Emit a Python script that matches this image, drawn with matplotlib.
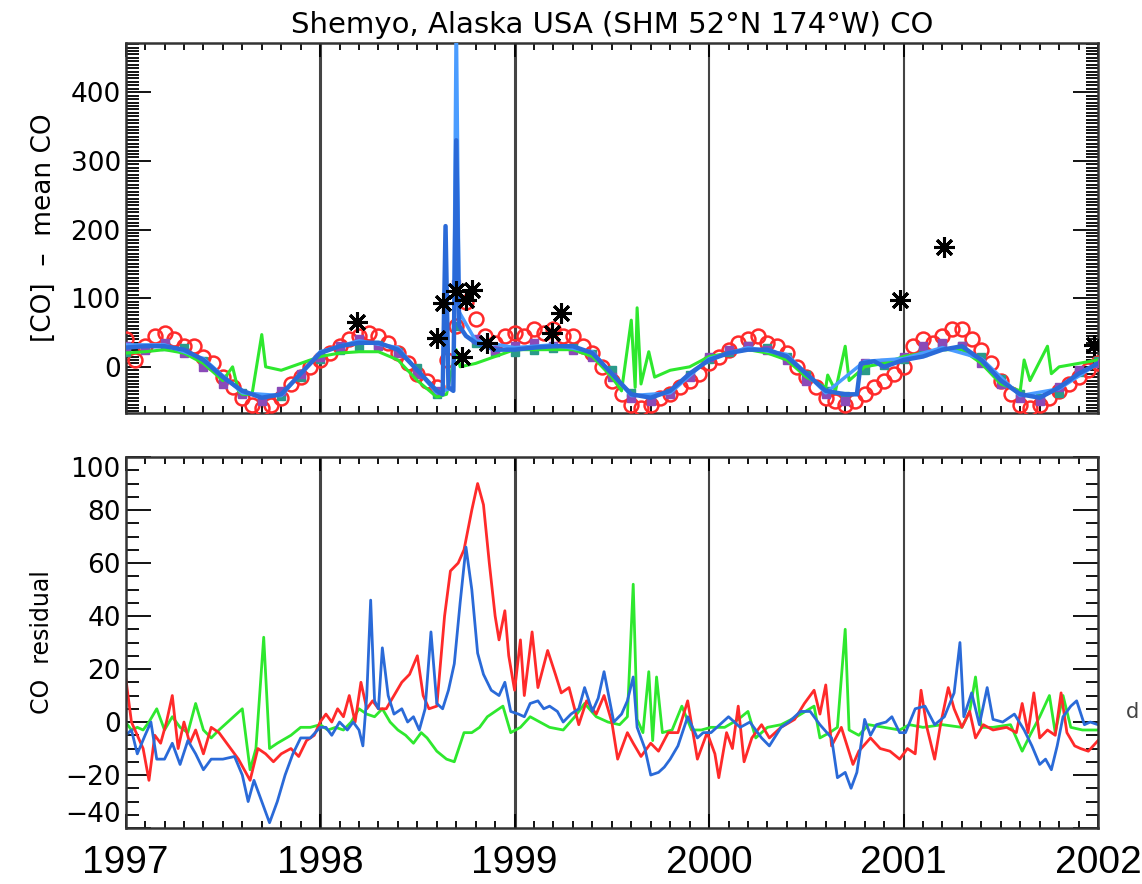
import numpy as np
import matplotlib
matplotlib.use("Agg")
import matplotlib.pyplot as plt
from matplotlib.ticker import MultipleLocator

# ---- dados: painel superior ([CO] - mean CO) ----

# azul (modelo) com os picos de 1998
t_azul = [1997.0, 1997.1, 1997.2, 1997.3, 1997.4, 1997.5, 1997.6, 1997.7, 1997.8, 1997.9,
          1998.0, 1998.1, 1998.2, 1998.3, 1998.4, 1998.5, 1998.6, 1998.63, 1998.645, 1998.66,
          1998.685, 1998.70, 1998.715, 1998.75, 1998.8, 1998.9,
          1999.0, 1999.1, 1999.2, 1999.3, 1999.4, 1999.5, 1999.6, 1999.7, 1999.8, 1999.9,
          2000.0, 2000.1, 2000.2, 2000.3, 2000.4, 2000.5, 2000.6, 2000.7, 2000.76, 2000.78,
          2000.85, 2000.9, 2001.0, 2001.1, 2001.2, 2001.3, 2001.4, 2001.5, 2001.6, 2001.7,
          2001.8, 2001.9, 2002.0]
v_azul = [28, 30, 30, 25, 10, -15, -35, -45, -40, -10,
          20, 30, 35, 35, 25, -5, -35, -40, 205, -30,
          -35, 330, 60, 45, 35, 25,
          25, 28, 30, 30, 20, -10, -40, -45, -35, -10,
          10, 20, 25, 25, 15, -10, -35, -40, -40, 5,
          8, 0, 10, 15, 25, 30, 10, -20, -40, -45,
          -30, -10, 5]

# azul claro: pico que sai do grafico
t_azul_cl = [1997.0, 1997.2, 1997.4, 1997.6, 1997.8, 1998.0, 1998.2, 1998.4, 1998.6,
             1998.685, 1998.70, 1998.715, 1998.8, 1999.0, 1999.2, 1999.4, 1999.6, 1999.8,
             2000.0, 2000.2, 2000.4, 2000.6, 2000.8, 2001.0, 2001.2, 2001.4, 2001.6, 2001.8, 2002.0]
v_azul_cl = [32, 32, 12, -38, -42, 22, 38, 28, -38,
             -30, 520, 80, 38, 28, 32, 22, -42, -38,
             12, 28, 18, -38, 8, 12, 28, 12, -42, -32, 5]

t_verde = [1997.0, 1997.1, 1997.2, 1997.3, 1997.4, 1997.5, 1997.55, 1997.58, 1997.6, 1997.65,
           1997.7, 1997.72, 1997.8, 1997.9,
           1998.0, 1998.1, 1998.2, 1998.3, 1998.4, 1998.5, 1998.6, 1998.65, 1998.7, 1998.72,
           1998.8, 1998.9,
           1999.0, 1999.1, 1999.2, 1999.3, 1999.4, 1999.5, 1999.55, 1999.6, 1999.62, 1999.63,
           1999.65, 1999.69, 1999.72, 1999.8, 1999.9,
           2000.0, 2000.1, 2000.2, 2000.3, 2000.4, 2000.5, 2000.6, 2000.61, 2000.65, 2000.70,
           2000.72, 2000.8, 2000.9,
           2001.0, 2001.1, 2001.2, 2001.3, 2001.4, 2001.5, 2001.6, 2001.62, 2001.65, 2001.74,
           2001.76, 2001.8, 2001.9, 2002.0]
v_verde = [20, 22, 25, 20, 5, -20, 0, -35, -40, -40,
           47, 0, -5, 5,
           15, 20, 22, 22, 10, -20, -44, -40, 25, 0,
           5, 15,
           25, 25, 25, 25, 15, -15, -35, 68, -30, 86,
           -25, 22, -15, -5, 0,
           15, 20, 25, 20, 10, -15, -30, -12, -35, 30,
           -20, 0, 5,
           15, 20, 25, 25, 5, -25, -35, 10, -20, 30,
           -10, 0, 5, 10]

# circulos vermelhos
t_circ = np.round(np.arange(1997.0, 2002.001, 0.05), 2)
v_circ = [40, 10, 30, 45, 50, 40, 30, 30, 15, 5, -15, -30, -45, -55, -60, -55, -45, -25, -15, 0,
          10, 20, 30, 40, 45, 50, 45, 35, 20, 5, -10, -20, -30, 10, 60, 95, 70, 45, 35, 45,
          50, 45, 55, 50, 55, 45, 45, 30, 20, 0, -20, -40, -55, -60, -55, -45, -40, -30, -20, -10,
          5, 15, 25, 35, 40, 45, 35, 30, 20, 0, -15, -30, -45, -50, -55, -50, -40, -30, -20, -10,
          0, 30, 40, 35, 45, 55, 55, 40, 25, 5, -20, -40, -55, -60, -55, -45, -35, -25, -15, -5,
          5]

# quadrados roxos e verde-azulados
t_quad = np.round(np.arange(1997.0, 2002.001, 0.1), 1)
v_roxo = [30, 25, 35, 20, 0, -25, -40, -50, -35, -10,
          15, 30, 40, 30, 20, -10, -35, 120, 40, 25,
          30, 35, 30, 25, 15, -15, -45, -50, -40, -15,
          15, 25, 30, 25, 10, -20, -40, -50, 5, 5,
          15, 30, 35, 30, 5, -25, -45, -50, -30, -5,
          5]
v_teal = [22, 28, 30, 28, 8, -18, -38, -45, -42, -15,
          12, 25, 30, 32, 22, -2, -40, 60, 35, 22,
          22, 25, 28, 28, 18, -5, -38, -45, -38, -12,
          12, 22, 30, 28, 15, -12, -35, -42, -5, 2,
          12, 22, 30, 30, 15, -18, -40, -45, -38, -8,
          8]

# asteriscos pretos (observacoes)
t_obs = [1998.19, 1998.60, 1998.63, 1998.70, 1998.75, 1998.78, 1998.73, 1998.86,
         1999.19, 1999.24, 2000.98, 2001.21, 2001.98]
v_obs = [66, 42, 93, 110, 97, 112, 15, 35, 50, 78, 97, 175, 32]

# ---- dados: painel inferior (CO residual) ----

t_res_vermelho = [1997.00, 1997.03, 1997.06, 1997.09, 1997.12, 1997.15, 1997.18, 1997.21, 1997.24, 1997.27,
                  1997.30, 1997.33, 1997.36, 1997.40, 1997.44, 1997.48, 1997.52, 1997.58, 1997.61, 1997.64,
                  1997.68, 1997.72, 1997.76, 1997.80, 1997.85, 1997.89, 1997.93, 1997.97, 1998.00,
                  1998.03, 1998.06, 1998.09, 1998.12, 1998.15, 1998.18, 1998.21, 1998.24, 1998.27, 1998.30,
                  1998.34, 1998.38, 1998.42, 1998.46, 1998.50, 1998.53, 1998.56, 1998.60, 1998.64, 1998.67,
                  1998.71, 1998.74, 1998.78, 1998.81, 1998.84, 1998.87, 1998.90, 1998.92, 1998.95, 1998.97,
                  1999.00, 1999.03, 1999.05, 1999.09, 1999.12, 1999.17, 1999.21, 1999.24, 1999.28, 1999.33,
                  1999.37, 1999.42, 1999.46, 1999.50, 1999.53, 1999.58, 1999.61, 1999.65, 1999.70, 1999.74,
                  1999.79, 1999.84, 1999.89, 1999.94, 1999.99,
                  2000.03, 2000.05, 2000.09, 2000.12, 2000.15, 2000.18, 2000.22, 2000.27, 2000.31, 2000.37,
                  2000.44, 2000.49, 2000.54, 2000.57, 2000.60, 2000.63, 2000.68, 2000.71, 2000.74, 2000.77,
                  2000.83, 2000.88, 2000.93, 2000.98,
                  2001.02, 2001.06, 2001.09, 2001.12, 2001.16, 2001.19, 2001.23, 2001.26, 2001.30, 2001.34,
                  2001.37, 2001.41, 2001.46, 2001.53, 2001.58, 2001.61, 2001.64, 2001.67, 2001.70, 2001.74,
                  2001.78, 2001.81, 2001.84, 2001.88, 2001.91, 2001.95, 2002.00]
v_res_vermelho = [17, 0, -5, -10, -22, -5, -8, 0, 10, -10,
                  0, -8, -3, -12, -2, -4, -8, -14, -18, -22,
                  -10, -12, -15, -12, -10, -13, -7, -5, 0,
                  3, 0, 5, 2, 10, 0, 15, 5, 8, 5,
                  5, 10, 15, 18, 25, 10, 5, 6, 40, 57,
                  60, 65, 80, 90, 82, 60, 40, 31, 42, 25,
                  12, 31, 10, 34, 13, 27, 18, 11, 13, -1,
                  8, 3, 10, 0, -14, -4, -8, -13, -8, -11,
                  -4, -4, 8, -14, -4,
                  -12, -21, -4, -10, 6, -15, -6, -1, -6, -2,
                  1, 7, 12, 3, 14, -9, -2, -9, -16, -11,
                  -6, -10, -11, -14,
                  -10, -12, 12, -2, -14, -1, 13, 5, -2, 4,
                  -6, -1, -3, -2, -4, 7, -4, 11, -6, -3,
                  -5, 11, -4, -9, -10, -11, -7]

t_res_azul = [1997.00, 1997.03, 1997.06, 1997.10, 1997.13, 1997.16, 1997.20, 1997.24, 1997.28, 1997.32,
              1997.36, 1997.40, 1997.44, 1997.50, 1997.56, 1997.60, 1997.63, 1997.66, 1997.70, 1997.74,
              1997.78, 1997.82, 1997.86, 1997.90, 1997.95, 1998.00,
              1998.03, 1998.06, 1998.10, 1998.14, 1998.17, 1998.20, 1998.22, 1998.24, 1998.26, 1998.28,
              1998.30, 1998.32, 1998.35, 1998.38, 1998.42, 1998.45, 1998.48, 1998.51, 1998.54, 1998.57,
              1998.60, 1998.63, 1998.66, 1998.69, 1998.72, 1998.75, 1998.78, 1998.81, 1998.84, 1998.88,
              1998.92, 1998.95, 1998.98,
              1999.02, 1999.05, 1999.08, 1999.12, 1999.15, 1999.18, 1999.22, 1999.25, 1999.29, 1999.33,
              1999.36, 1999.40, 1999.43, 1999.46, 1999.51, 1999.55, 1999.58, 1999.61, 1999.63, 1999.67,
              1999.70, 1999.74, 1999.77, 1999.80, 1999.84, 1999.89, 1999.94, 1999.97,
              2000.01, 2000.04, 2000.10, 2000.16, 2000.21, 2000.27, 2000.31, 2000.37, 2000.41, 2000.47,
              2000.52, 2000.57, 2000.63, 2000.66, 2000.70, 2000.73, 2000.76, 2000.80, 2000.83, 2000.86,
              2000.91, 2000.94, 2000.98,
              2001.01, 2001.06, 2001.11, 2001.16, 2001.21, 2001.26, 2001.29, 2001.31, 2001.35, 2001.39,
              2001.43, 2001.46, 2001.51, 2001.57, 2001.62, 2001.66, 2001.70, 2001.73, 2001.76, 2001.79,
              2001.82, 2001.86, 2001.89, 2001.93, 2001.96, 2002.00]
v_res_azul = [-5, -3, -12, -5, 0, -14, -14, -8, -16, -7,
              -12, -18, -14, -14, -13, -20, -30, -22, -30, -38,
              -30, -20, -12, -6, -6, -2,
              -2, -5, 0, -3, 0, -3, -9, 10, 46, 8,
              5, 28, 10, 3, 5, 0, 2, -3, 5, 34,
              7, 5, 12, 22, 45, 66, 50, 26, 18, 12,
              10, 15, 4,
              3, 2, 7, 8, 5, 6, 4, 0, 3, 5,
              13, 4, 9, 19, 0, 3, 8, 17, -2, -10,
              -20, -19, -17, -14, -9, 2, -6, -4,
              -4, -2, 2, -2, 0, -6, -9, -2, 0, 4,
              4, -1, -6, -21, -19, -25, -19, 1, -5, -1,
              0, 2, -4,
              -4, 5, 6, -1, 2, 11, 30, 2, 11, -1,
              13, 1, 0, 3, -3, -9, -16, -14, -18, -9,
              2, 6, 8, -1, 0, -1]

t_res_verde = [1997.00, 1997.03, 1997.06, 1997.09, 1997.12, 1997.16, 1997.20, 1997.24, 1997.28, 1997.32,
               1997.36, 1997.40, 1997.44, 1997.48, 1997.60, 1997.64, 1997.67, 1997.71, 1997.74, 1997.78,
               1997.85, 1997.90, 1997.95, 1998.00,
               1998.04, 1998.08, 1998.12, 1998.16, 1998.20, 1998.24, 1998.28, 1998.32, 1998.36, 1998.40,
               1998.44, 1998.48, 1998.52, 1998.55, 1998.60, 1998.65, 1998.69, 1998.74, 1998.78, 1998.82,
               1998.86, 1998.90, 1998.94, 1998.98,
               1999.03, 1999.08, 1999.13, 1999.18, 1999.25, 1999.31, 1999.36, 1999.42, 1999.48, 1999.54,
               1999.58, 1999.61, 1999.63, 1999.66, 1999.69, 1999.71, 1999.73, 1999.76, 1999.81, 1999.86,
               1999.91, 1999.96,
               2000.01, 2000.08, 2000.15, 2000.20, 2000.24, 2000.30, 2000.37, 2000.45, 2000.54, 2000.57,
               2000.62, 2000.66, 2000.70, 2000.72, 2000.77, 2000.82, 2000.90, 2000.98,
               2001.03, 2001.10, 2001.20, 2001.30, 2001.34, 2001.37, 2001.40, 2001.46, 2001.55, 2001.61,
               2001.65, 2001.70, 2001.75, 2001.78, 2001.82, 2001.86, 2001.92, 2002.00]
v_res_verde = [0, -3, -2, -3, 0, 5, -3, 2, -2, -4,
               7, -3, -6, -3, 5, -18, -10, 32, -10, -8,
               -5, -2, -2, -1,
               -3, -2, -3, 0, 5, 3, 2, 5, 0, -3,
               -5, -8, -4, -6, -11, -14, -15, -4, -4, -2,
               2, 4, 6, -4,
               -2, 2, 0, -2, -3, 2, 7, 2, 0, -1,
               2, 52, 1, -4, 19, -7, 17, -4, -3, 6,
               -3, -3,
               -2, -2, 1, 4, -6, -2, -1, 2, 6, -6,
               -4, -2, 35, -3, -5, -1, -2, -3,
               -1, -2, -1, -2, 4, 17, -2, -2, -1, -11,
               -5, 2, 10, -4, 10, -2, -3, -3]

anos = [1997, 1998, 1999, 2000, 2001, 2002]
anos_linha = [1998, 1999, 2000, 2001]
larg_linha = [2.2, 2.2, 1.5, 1.5]

vermelho = '#ff2a2a'
verde = '#2ee82e'
azul = '#2a6ad8'
azul_cl = '#4a9cff'
roxo = '#8a4ab8'
teal = '#2a9a8a'

fig = plt.figure(figsize=(11.42, 8.84), dpi=100)
ax1 = fig.add_axes([0.110, 0.533, 0.8515, 0.4186])
ax2 = fig.add_axes([0.110, 0.0633, 0.8515, 0.4197])

# painel de cima
ax1.plot(t_circ, v_circ, 'o', ms=10, mfc='none', mec=vermelho, mew=1.8, zorder=3)
ax1.plot(t_quad, v_teal, 's', ms=6, color=teal, zorder=3)
ax1.plot(t_quad, v_roxo, 's', ms=6, color=roxo, zorder=3)
ax1.plot(t_verde, v_verde, '-', color=verde, lw=2.2, zorder=4)
ax1.plot(t_azul_cl, v_azul_cl, '-', color=azul_cl, lw=2.5, zorder=4)
ax1.plot(t_azul, v_azul, '-', color=azul, lw=3.2, zorder=5)
ax1.plot(t_obs, v_obs, marker=(8, 2, 0), ls='none', ms=15, mew=2.2, color='black', zorder=6)
ax1.plot(t_obs, v_obs, 's', ms=5, color='black', zorder=6)
ax1.set_ylim(-67, 472)
ax1.yaxis.set_major_locator(MultipleLocator(100))
ax1.yaxis.set_minor_locator(MultipleLocator(5))
ax1.set_ylabel('[CO]  \u2013  mean CO', fontsize=19, labelpad=10)
ax1.set_title('Shemyo, Alaska USA (SHM 52\u00b0N 174\u00b0W) CO', fontsize=21, pad=7)

# painel de baixo
ax2.plot(t_res_verde, v_res_verde, '-', color=verde, lw=2.0)
ax2.plot(t_res_vermelho, v_res_vermelho, '-', color=vermelho, lw=2.0)
ax2.plot(t_res_azul, v_res_azul, '-', color=azul, lw=2.0)
ax2.set_ylim(-40, 100)
ax2.yaxis.set_major_locator(MultipleLocator(20))
ax2.yaxis.set_minor_locator(MultipleLocator(5))
ax2.set_ylabel('CO  residual', fontsize=17, labelpad=8)

for ax in (ax1, ax2):
    ax.set_xlim(1997, 2002)
    ax.set_xticks(anos)
    ax.xaxis.set_minor_locator(MultipleLocator(0.1))
    for ano, lw in zip(anos_linha, larg_linha):
        ax.axvline(ano, color='#444444', lw=lw, zorder=1)
    ax.tick_params(which='both', direction='in', top=True, right=True, width=1.3)
    ax.tick_params(which='major', axis='y', length=18, labelsize=19)
    ax.tick_params(which='minor', axis='y', length=9)
    ax.tick_params(which='major', axis='x', length=10)
    ax.tick_params(which='minor', axis='x', length=5)
    for s in ax.spines.values():
        s.set_linewidth(1.8)
        s.set_color('#333333')

ax1.tick_params(axis='x', labelbottom=False)
ax2.set_xticklabels([str(a) for a in anos], fontsize=28, family='Liberation Sans')
ax2.tick_params(axis='x', pad=12)

# rotulos das pontas puxados para dentro
fig.canvas.draw()
ylabs = ax2.get_yticklabels()
for lab in ylabs:
    txt = lab.get_text().replace('\u2212', '-')
    if txt == '100':
        lab.set_va('top')
    elif txt == '-40':
        lab.set_va('bottom')

fig.text(1126 / 1142, 1 - 712 / 884, 'd', fontsize=15, color='#444444', va='center')

fig.savefig('out.png', dpi=100)
